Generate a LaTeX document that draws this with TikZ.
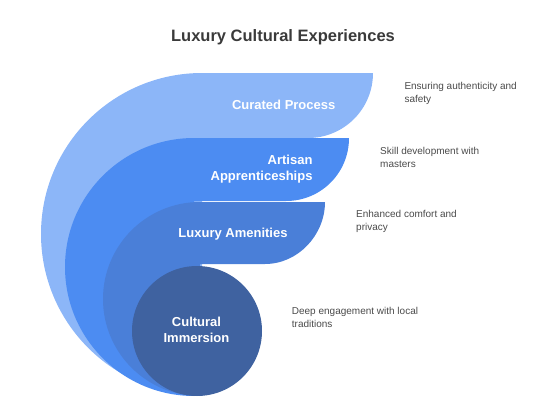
\documentclass[tikz,border=0pt]{standalone}
\usepackage{fontspec}
\setmainfont{Liberation Sans}
\definecolor{cOne}{HTML}{8CB6F8}
\definecolor{cTwo}{HTML}{4C8CF2}
\definecolor{cThree}{HTML}{4A7FD8}
\definecolor{cFour}{HTML}{3F62A0}
\definecolor{cTitle}{HTML}{3A3A3A}
\definecolor{cDesc}{HTML}{4A4A4A}
\begin{document}
\begin{tikzpicture}[x=1pt,y=-1pt,
  lbl/.style={text=white,font=\fontsize{13}{16}\selectfont\bfseries,inner sep=0pt},
  desc/.style={text=cDesc,font=\fontsize{10}{13}\selectfont,inner sep=0pt,align=left,anchor=west}]
\useasboundingbox (0,0) rectangle (550,407);
% outer layer
\begin{scope}
\clip (0,0) rectangle (202,407);
\fill[cOne] (202,234) circle[radius=161pt];
\end{scope}
\fill[cOne] (201,73) -- (373,73) .. controls (373,109) and (344,138) .. (308,138) -- (201,138) -- cycle;
% second layer
\begin{scope}
\clip (0,0) rectangle (194,407);
\fill[cTwo] (194,267) circle[radius=129pt];
\end{scope}
\fill[cTwo] (193,138) -- (349,138) .. controls (349,173) and (321,201) .. (286,201) -- (193,201) -- cycle;
% third layer
\begin{scope}
\clip (0,0) rectangle (200,407);
\fill[cThree] (200,299) circle[radius=97pt];
\end{scope}
\fill[cThree] (199,202) -- (325,202) .. controls (325,235) and (298,264) .. (265,264) -- (199,264) -- cycle;
% inner circle
\fill[cFour] (197,331) circle[radius=65pt];
% title
\node[text=cTitle,font=\fontsize{16.5}{20}\selectfont\bfseries,inner sep=0pt] (title) at (283,37) {Luxury Cultural Experiences};
% labels
\node[lbl] (l1) at (283.7,105) {Curated Process};
\node[lbl,align=right,anchor=east] (l2) at (312.7,169.5) {Artisan\\Apprenticeships};
\node[lbl] (l3) at (233,234) {Luxury Amenities};
\node[lbl,align=center] (l4) at (196.5,330) {Cultural\\Immersion};
% descriptions
\node[desc] (d1) at (404.3,93.3) {Ensuring authenticity and\\safety};
\node[desc] (d2) at (380,157.5) {Skill development with\\masters};
\node[desc] (d3) at (356,221.5) {Enhanced comfort and\\privacy};
\node[desc] (d4) at (291.7,317.8) {Deep engagement with local\\traditions};
\end{tikzpicture}
\end{document}
